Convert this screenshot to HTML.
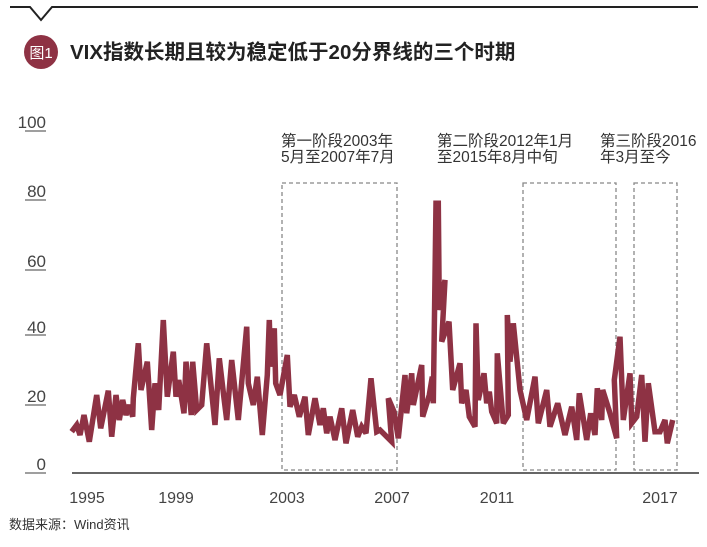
<!DOCTYPE html>
<html><head><meta charset="utf-8"><style>
body{margin:0;background:#fff;width:707px;height:542px;overflow:hidden}
svg text{font-family:"Liberation Sans","Noto Sans CJK SC",sans-serif}
</style></head><body>
<svg width="707" height="542" viewBox="0 0 707 542" xmlns="http://www.w3.org/2000/svg">
<polyline points="10,7 30,7 41,20 52,7 698,7" fill="none" stroke="#222" stroke-width="2"/>
<circle cx="41" cy="52" r="17" fill="#8e3244"/>
<text x="41" y="58" font-size="15" fill="#fff" text-anchor="middle">图1</text>
<text x="70" y="59" font-size="20.5" font-weight="bold" fill="#222">VIX指数长期且较为稳定低于20分界线的三个时期</text>

<g font-size="17" fill="#444" text-anchor="end">
<text x="46" y="128">100</text><text x="46" y="197">80</text><text x="46" y="267">60</text>
<text x="46" y="333">40</text><text x="46" y="402">20</text><text x="46" y="470">0</text>
</g>
<g stroke="#666" stroke-width="1.2">
<line x1="25" y1="131" x2="46" y2="131"/><line x1="25" y1="200" x2="46" y2="200"/>
<line x1="25" y1="270" x2="46" y2="270"/><line x1="25" y1="335" x2="46" y2="335"/>
<line x1="25" y1="405" x2="46" y2="405"/><line x1="25" y1="473" x2="46" y2="473"/>
</g>

<g fill="none" stroke="#888" stroke-width="1.3" stroke-dasharray="4,3">
<rect x="282" y="183" width="115" height="287"/>
<rect x="523" y="183" width="93" height="287"/>
<rect x="634" y="183" width="43" height="287"/>
</g>

<g font-size="15.5" fill="#333">
<text x="281" y="146">第一阶段2003年</text><text x="281" y="162">5月至2007年7月</text>
<text x="437" y="146">第二阶段2012年1月</text><text x="437" y="162">至2015年8月中旬</text>
<text x="600" y="146">第三阶段2016</text><text x="600" y="162">年3月至今</text>
</g>

<polyline fill="none" stroke="#8e3244" stroke-width="5.5" stroke-linejoin="miter" stroke-miterlimit="3" points="
71.7,431.7 76.7,425 80,435 84,415 89.3,441.7 96.7,395 100.7,428.3 108.3,390.7 111.7,436.7 116,395 119.3,420 122.7,400 126,415 129.3,405 132.7,416.7 133.3,398.3 138.3,343.3 141,390 147.3,361.7 151.7,430 155,383.3 158.7,410 163.3,320 167.3,396.7 173.3,351.7 176,396.7 178.7,380 184,413.3 186,361.7 191.3,415 192.7,361.7 196.7,410 201.7,405 206.7,343.3 215,425 219.3,358.3 224,398.3 226.7,420 231.7,360 238.3,420 246.7,326.7 248.3,383.3 253.3,405 257.3,376.7 262.3,435 267.3,375 269.3,320 270.7,366.7 274.3,328.3 275.7,383.3 280,395 287.3,355 290,406.7 294.3,395 299.3,416.7 305,396.7 308.3,435 315,398.3 320,425 323.3,408.3 326.7,433.3 330,416.7 335,440 341.7,408.3 346,443.3 352.7,410 357.7,436.7 361.7,426.7 366,433.3 371,378.3 376.7,431.7
380,430 391.7,441.7 388.3,398.3 394,411.7 398.3,438.3 405,375 406.7,413.3 411.7,373.3 413.3,405 421.7,365 422.7,416.7 429.3,395 432.3,376.7 433.3,403.3 436,203.3 438.3,203.3 439.3,310 445,280 441.7,341.7 449,321.7 452.7,390 460,363.3 461.7,403.3 466,390 469.3,416.7 475,426.7 476,323.3 478.3,400 484,373.3 486.7,403.3 489.3,391.7 491.7,411.7 496.7,423.3 497.3,353.3 503.3,423.3 508.3,415 507.3,315 510,361.7 513.3,323.3 520,390 526.7,420 535,376.7 538.3,423.3 546.7,390 550,426.7 557.7,403.3 565,435 571.7,406.7 576.7,440 579.3,393.3 586.7,440 590.7,413.3 595,435 597.3,388.3 601.7,420 602.7,390 610,413.3 616.7,438.3 614.3,380 620,336.7 623.3,420 630,373.3 631.7,423.3 636.7,416.7 641.7,375 645,441.7 648.3,383.3 655,431.7 660,431.7 665,420 667.3,443.3 672.7,420"/>

<line x1="72" y1="473" x2="699" y2="473" stroke="#333" stroke-width="1.5"/>
<g font-size="16" fill="#444" text-anchor="middle">
<text x="87" y="503">1995</text><text x="176" y="503">1999</text><text x="287" y="503">2003</text>
<text x="392" y="503">2007</text><text x="497" y="503">2011</text><text x="660" y="503">2017</text>
</g>
<text x="9" y="529" font-size="13" fill="#333">数据来源：Wind资讯</text>
</svg>
</body></html>
